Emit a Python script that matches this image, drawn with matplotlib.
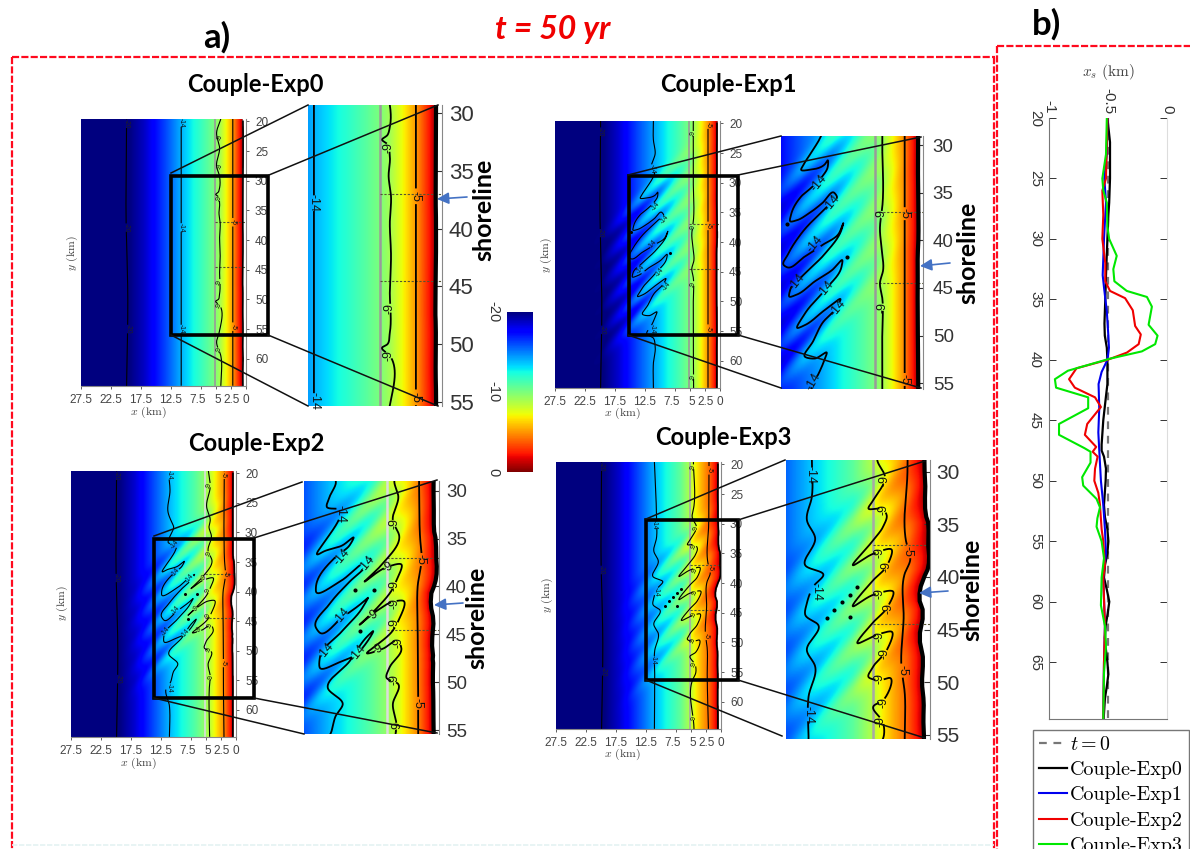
import numpy as np
import matplotlib
matplotlib.use("Agg")
import matplotlib.pyplot as plt
from matplotlib.cm import ScalarMappable
from matplotlib.colors import Normalize
from matplotlib.patches import Rectangle
from matplotlib.transforms import ScaledTranslation

plt.rcParams['mathtext.fontset'] = 'cm'
plt.rcParams['font.family'] = ['Liberation Sans', 'DejaVu Sans']
plt.rcParams['axes.unicode_minus'] = False
W, H = 1190, 849

# ---------- cross-shore depth profile (km, m) per experiment ----------
prof_x = [0.0, 0.5, 1.0, 2.0, 3.2, 4.35, 5.2, 7.0, 9.0, 10.8, 13.0, 15.0, 17.0, 19.5, 27.5]
prof_z0 = [0, -0.5, -2.2, -4.7, -7.0, -9.0, -10.0, -11.3, -12.7, -14.0, -15.8, -17.3, -18.8, -20, -20]
prof_z1 = [0, -0.5, -2.2, -4.7, -7.0, -9.0, -10.0, -11.3, -12.7, -14.0, -15.5, -17.0, -18.6, -20, -20]
prof_z2 = [0, -0.5, -2.2, -4.5, -6.4, -8.2, -9.4, -11.0, -12.4, -13.6, -15.4, -17.0, -18.6, -20, -20]
prof_z3 = [0, -0.5, -2.0, -3.9, -5.4, -7.0, -8.6, -10.8, -12.3, -13.6, -15.4, -17.0, -18.6, -20, -20]

# ---------- oblique bar pattern: along-shore position at x = 10 km ----------
deep1 = [31.2, 35.4, 39.5, 43.3, 47.2]
shal1 = [29.3, 33.5, 37.4, 41.3, 45.5, 49.3]
deep2 = [32.3, 36.3, 40.2, 44.0, 48.0]
shal2 = [34.5, 37.9, 41.9, 45.9, 49.6]
deep3 = [36.0, 40.0, 43.8, 47.8, 52.0]
shal3 = [38.0, 41.9, 45.8, 49.7, 53.9]
env_x = [0, 2, 4, 6, 8, 10, 13, 16, 18, 20, 22]
env1 = [0, 0.03, 0.15, 0.4, 0.7, 1.0, 1.0, 0.6, 0.3, 0.1, 0]
env2 = [0, 0.1, 0.45, 0.85, 1.0, 1.0, 0.7, 0.2, 0.03, 0, 0]
env3 = [0, 0.3, 0.7, 1.0, 0.9, 0.75, 0.4, 0.08, 0, 0, 0]
amp = [0.0, 1.7, 1.6, 1.3]

# ---------- panel b: shoreline position xs(y) ----------
y_t0 = [20, 69.7]
xs_t0 = [-0.5, -0.5]
y_b0 = [20, 22, 25, 27, 28, 30, 33, 35, 37, 38, 39, 40, 42, 43, 45, 47, 47.5, 48, 49, 50, 52, 53, 54, 55, 56, 57, 58, 59, 60, 61, 62, 63, 64, 65, 66, 67, 68, 69.7]
xs_b0 = [-.505, -.483, -.483, -.49, -.497, -.505, -.517, -.523, -.53, -.527, -.51, -.505, -.505, -.517, -.54, -.554, -.554, -.534, -.517, -.52, -.534, -.526, -.505, -.497, -.505, -.526, -.534, -.51, -.489, -.503, -.52, -.526, -.517, -.505, -.497, -.51, -.526, -.537]
y_b1 = [20, 23, 25, 27, 30, 33, 34, 36, 38, 39, 40, 41, 42, 44, 46, 47.5, 50, 52, 54, 56, 58, 62, 65, 69.7]
xs_b1 = [-.505, -.51, -.531, -.517, -.534, -.545, -.534, -.51, -.497, -.492, -.505, -.554, -.58, -.574, -.582, -.574, -.56, -.54, -.526, -.517, -.54, -.526, -.534, -.54]
y_b2 = [20, 25, 26, 28, 30, 32, 33.5, 34.3, 34.9, 35.9, 37.2, 37.9, 38.7, 39.4, 40, 40.7, 41.6, 42.3, 43.1, 43.9, 45.3, 46.2, 47.2, 47.6, 48, 49, 50, 51, 52, 54, 55, 57, 58, 62, 65, 69.7]
xs_b2 = [-.505, -.517, -.548, -.54, -.548, -.523, -.523, -.483, -.355, -.29, -.27, -.222, -.24, -.34, -.505, -.767, -.83, -.781, -.61, -.56, -.676, -.696, -.6, -.63, -.588, -.61, -.616, -.582, -.568, -.554, -.54, -.526, -.54, -.526, -.534, -.54]
y_b3 = [20, 23, 25, 26, 27, 29, 30, 31.4, 32.5, 33.5, 34.3, 34.8, 35.6, 37.1, 38, 38.7, 39.3, 39.9, 40.9, 41.6, 42.3, 43.1, 44, 45.3, 46.2, 47.3, 47.6, 48.5, 49.7, 50.4, 51.5, 52.2, 53.1, 53.8, 55, 56.4, 58, 60.3, 62, 63.7, 65.9, 69.7]
xs_b3 = [-.51, -.517, -.548, -.54, -.51, -.505, -.49, -.426, -.455, -.446, -.341, -.17, -.128, -.156, -.08, -.1, -.213, -.483, -.84, -.95, -.94, -.668, -.668, -.915, -.915, -.70, -.648, -.648, -.719, -.71, -.597, -.568, -.59, -.597, -.554, -.534, -.554, -.56, -.526, -.517, -.534, -.54]

# ---------- -14 m contour (x km, y km) ----------
c14x0 = [10.8, 10.8]
c14y0 = [19.6, 64.6]
c14x1 = [11.1, 11.1, 10.8, 11.4, 10.9, 11.1, 12.0, 13.0, 13.3, 12.4, 10.7, 10.4, 10.4, 11.0, 12.1, 13.3, 14.4, 14.5, 13.8, 12.5, 11.0, 9.7, 9.4, 10.3, 13.3, 14.7, 15.2, 14.9, 12.9, 11.0, 9.2, 8.7, 8.9, 10.7, 12.9, 14.5, 14.6, 13.8, 11.8, 9.9, 8.8, 8.9, 10.7, 12.9, 13.7, 12.9, 10.7, 9.0, 9.4, 11.0, 12.0, 12.9, 11.8, 10.5, 10.7, 11.4, 12.2, 11.1, 10.8, 11.1, 11.1]
c14y1 = [19.6, 22.8, 25, 27.6, 28.5, 29.0, 30.5, 32.0, 32.6, 32.6, 32.0, 31.6, 32.3, 33.3, 34.4, 35.4, 37.3, 38.0, 37.9, 37.2, 36.1, 35.0, 35.4, 36.3, 39.3, 41.4, 42.6, 42.8, 41.7, 40.5, 39.3, 38.2, 38.9, 41.4, 43.5, 45.2, 45.9, 45.7, 44.3, 43.1, 42.1, 42.8, 45.2, 47.7, 49.2, 48.9, 47.3, 46.2, 47.0, 48.7, 50.6, 52.2, 52.4, 51.8, 52.4, 54.0, 55.5, 56.2, 57.6, 60.4, 64.6]
c14x2 = [11.3, 11.0, 11.3, 10.7, 10.4, 11.0, 11.3, 9.8, 10.0, 12.05, 11.7, 9.7, 8.6, 9.0, 10.4, 12.4, 12.4, 10.0, 7.7, 6.9, 7.3, 9.0, 11.0, 12.4, 12.05, 9.7, 7.3, 7.2, 7.7, 9.7, 12.0, 12.0, 10.0, 8.35, 6.7, 7.3, 9.0, 11.2, 9.7, 10.4, 11.0, 11.6, 11.1, 11.1]
c14y2 = [19.6, 22.8, 26.7, 28.3, 29.0, 30.6, 31.7, 32.1, 32.8, 36.6, 36.4, 35.7, 34.9, 35.7, 36.9, 40.1, 40.5, 39.5, 37.6, 37.1, 37.8, 39.5, 41.8, 44.3, 44.8, 43.2, 41.3, 41.2, 42.2, 44.6, 47.4, 48.5, 47.9, 47.1, 44.7, 45.3, 47.8, 50.6, 52.3, 53.5, 55.5, 56.3, 59.3, 64.6]
c14x3 = [11.1, 10.75, 10.75, 11.2, 10.45, 11.35, 9.7, 10.6, 11.2, 11.35, 10.15, 11.2, 10.45, 11.05, 11.05, 11.1]
c14y3 = [19.6, 28.9, 32.4, 34.6, 36.3, 38.9, 39.8, 40.9, 42.5, 43.6, 44.6, 47.0, 48.5, 51.4, 55.3, 64.6]

# ---------- -9 m contour ----------
c9x0 = [4.2, 4.9, 4.4, 4.9, 4.4, 4.4, 4.6, 5.05, 4.6, 4.4, 4.5, 4.3, 4.4, 4.3, 4.4, 4.4, 4.6, 5.05, 4.4, 4.4, 4.9, 4.2, 4.2]
c9y0 = [19.6, 21.9, 24.5, 27.6, 29.3, 31.2, 31.9, 32.3, 32.7, 33.7, 35.5, 37.2, 39.5, 42.4, 45.3, 49.0, 50, 50.3, 51, 55.3, 57.2, 59.5, 64.6]
c9x1 = [4.45, 4.45, 4.4, 4.7, 4.5, 4.35, 4.7, 4.45, 4.45, 4.45, 4.4]
c9y1 = [19.6, 30, 36, 38.9, 41, 43.1, 44.5, 46, 50, 55, 64.6]
c9x2 = [4.6, 4.3, 4.9, 4.3, 4.5, 4.1, 4.65, 4.0, 5.65, 7.5, 5.3, 3.8, 4.3, 4.65, 6.2, 8.0, 6.2, 4.65, 3.6, 4.1, 4.65, 7.2, 5.65, 4.1, 3.8, 5.0, 5.3, 4.1, 4.65, 4.3, 4.4, 4.4]
c9y2 = [19.6, 22.2, 25.6, 28.0, 29, 30.6, 33.1, 34.8, 37.6, 39.5, 38.0, 37.7, 39.4, 40.2, 42.2, 44.0, 42.5, 41.6, 41.5, 43.6, 44.6, 47.0, 46.5, 45.7, 46.4, 48.5, 49.5, 50.2, 52.3, 54.4, 55.6, 64.6]
c9x3 = [4.6, 4.5, 4.8, 4.1, 5.15, 5.6, 4.25, 3.95, 4.25, 5.15, 7.0, 5.15, 3.5, 3.95, 5.15, 7.0, 5.15, 3.35, 3.95, 5.15, 6.6, 4.55, 3.5, 3.95, 5.15, 5.6, 4.55, 3.65, 4.25, 5.15, 4.25, 4.25, 4.6, 4.5]
c9y3 = [19.6, 27, 28.9, 30.5, 32.7, 33.5, 33.6, 34.1, 35.2, 36.5, 38.9, 37.8, 37.4, 39.0, 40.3, 42.8, 41.7, 41.4, 43.0, 44.3, 46.3, 45.4, 45.2, 47.0, 48.5, 49.5, 49.8, 49.6, 51.7, 52.3, 53.9, 55.3, 56, 64.6]

# ---------- -5 and -20 m contours ----------
c5y0 = [19.6, 64.6]
c5x0 = [2.2, 2.2]
c5y1 = [19.6, 64.6]
c5x1 = [2.0, 2.0]
c5y2 = [19.6, 30, 35, 37, 40, 44, 50, 55, 64.6]
c5x2 = [1.95, 2.0, 1.9, 1.75, 2.15, 2.15, 2.1, 2.1, 2.0]
c5y3 = [19.6, 30, 36.5, 38.4, 39.7, 44, 48.5, 51, 55.3, 64.6]
c5x3 = [2.0, 2.05, 2.2, 1.8, 2.3, 2.4, 2.6, 2.3, 2.3, 2.1]
c20x = [19.9, 20.0, 19.7, 19.9]

# ---------- contour labels ----------
lab20_y = [[20.4, 37.9, 55.0], [21.4, 38.5, 54.8], [20.4, 37.7, 54.8], [20.4, 37.8, 54.9]]
m14 = [[(10.8, 20.2, 270), (10.8, 37.9, 270), (10.8, 55.0, 270)],
       [(11.3, 27.6, 270), (10.8, 34.0, 50), (9.3, 36.2, 50), (11.2, 40.4, 50), (13.2, 44.6, 50), (10.1, 45.1, 50), (8.9, 47.4, 50), (11.3, 54.7, 270)],
       [(11.1, 20.3, 270), (10.3, 32.0, 50), (10.0, 36.7, 50), (7.7, 37.7, 50), (10.0, 43.1, 50), (11.7, 46.8, 50), (8.4, 47.0, 50), (11.1, 56.2, 270)],
       [(11.1, 30.2, 270), (10.8, 41.4, 270), (11.3, 53.0, 270)]]
i14 = [[(10.8, 37.8, 270), (10.75, 54.9, 270)],
       [(11.4, 34.0, 50), (9.9, 36.1, 50), (11.8, 40.4, 50), (13.8, 44.4, 50), (10.6, 45.1, 50), (9.3, 47.1, 50), (12.0, 54.8, 60)],
       [(9.9, 32.4, 270), (9.8, 36.9, 50), (7.3, 37.7, 50), (9.8, 43.1, 50), (11.4, 46.8, 50), (8.2, 47.0, 50)],
       [(10.85, 30.3, 270), (10.3, 41.4, 270), (11.05, 53.1, 270)]]
m9 = [[(4.3, 22.7, 90), (4.3, 27.6, 90), (4.4, 33.0, 90), (4.4, 47.0, 90), (4.4, 51.0, 90), (4.4, 58.4, 90)],
      [(4.45, 21.7, 90), (4.45, 37.4, 90), (4.4, 47.0, 90), (4.5, 62.7, 90)],
      [(4.5, 22.0, 90), (4.4, 33.5, 90), (5.4, 37.8, 30), (4.6, 39.8, 90), (6.7, 43.0, 30), (4.6, 43.9, 90), (4.3, 45.7, 90), (6.2, 46.6, 30), (4.4, 49.8, 90), (4.2, 54.5, 90)],
      [(4.6, 20.4, 90), (4.2, 30.8, 90), (4.5, 33.8, 90), (4.3, 37.8, 90), (4.3, 41.6, 90), (4.5, 45.3, 90), (4.6, 49.6, 90), (4.4, 53.7, 90), (4.5, 62.7, 90)]]
i9 = [[(4.55, 33.0, 90), (4.4, 46.9, 90), (4.55, 51.0, 90)],
      [(4.5, 37.3, 90), (4.4, 47.0, 90)],
      [(4.5, 33.4, 90), (5.2, 38.0, 30), (4.5, 39.9, 90), (4.5, 41.8, 90), (6.7, 43.0, 30), (4.5, 43.9, 90), (4.1, 45.8, 90), (6.2, 46.6, 30), (4.5, 49.7, 90), (4.2, 54.6, 90)],
      [(4.1, 30.8, 90), (4.25, 33.6, 90), (4.55, 37.7, 90), (3.95, 39.0, 90), (4.55, 41.6, 90), (3.8, 43.0, 90), (4.6, 45.7, 90), (4.1, 47.3, 90), (4.6, 49.7, 90), (4.25, 51.9, 90), (4.5, 53.7, 90)]]
m5 = [[(2.2, 37.0), (2.2, 54.6)], [(2.0, 20.2), (2.0, 37.3), (2.0, 54.6)], [(2.2, 20.3), (1.75, 37.1), (2.2, 52.1)], [(2.0, 21.0), (1.8, 37.5), (2.4, 48.9)]]
i5 = [[(2.2, 37.2), (2.2, 54.6)], [(2.0, 37.2), (2.05, 54.6)], [(1.85, 37.2), (2.15, 52.2)], [(2.05, 37.6), (2.5, 48.9)]]
tip_x = [[], [14.8, 8.3], [8.5, 6.5, 8.0], [9.4, 8.7, 8.0, 7.3, 6.6, 7.3]]
tip_y = [[], [38.3, 41.8], [40.4, 40.4, 44.6], [43.9, 43.1, 42.4, 41.7, 41.0, 43.8]]

# ---------- tick labels ----------
x_ticks = [27.5, 22.5, 17.5, 12.5, 7.5, 5, 2.5, 0]
x_ticklabels = ['27.5', '22.5', '17.5', '12.5', '7.5', '5', '2.5', '0']
y_ticks = [20, 25, 30, 35, 40, 45, 50, 55, 60]
inset_ticks = [30, 35, 40, 45, 50, 55]
names = ['Couple-Exp0', 'Couple-Exp1', 'Couple-Exp2', 'Couple-Exp3']

# ---------- layout (pixel boxes in the figure) ----------
main_box = [(81, 119, 246, 386), (555, 121, 720, 388), (71, 471, 236, 737), (556, 462, 721, 729)]
inset_box = [(308, 105, 442, 406), (781, 136, 923, 389), (304, 481, 439, 734), (786, 460, 930, 739)]
inset_xlim = [11.3, 15.5, 13.6, 13.1]
inset_ylim = [(55.35, 29.3), (55.6, 29.05), (55.4, 29.0), (55.4, 28.9)]
inset_fs = [16, 13.5, 13.5, 15]
inset_pad = [5, 7, 5, 4.5]
rect_box = [(171, 176, 268, 335), (629, 176, 738, 335), (154, 539, 254, 698), (646, 520, 738, 680)]
conn = [[((171, 173), (308, 105)), ((269, 175), (438, 105)), ((171, 335), (308, 406)), ((268, 335), (438, 406))],
        [((628, 175), (781, 136)), ((738, 175), (921, 137)), ((628, 335), (781, 388)), ((738, 335), (921, 388))],
        [((154, 536), (302, 482)), ((254, 538), (437, 480)), ((154, 698), (304, 734)), ((254, 698), (437, 733))],
        [((646, 519), (785, 460)), ((738, 520), (925, 461)), ((646, 680), (782, 736)), ((738, 680), (925, 738))]]
shore_txt = [(484, 210), (968, 253), (477, 618), (972, 590)]
arrows = [((467, 197), (437, 199)), ((950, 263), (920, 266)), ((463, 603), (434, 605)), ((948, 591), (919, 593))]
title_xy = [(255, 84), (728, 84), (256, 443), (723, 437)]
xlabel_xy = [(148, 412), (622, 413), (138, 763), (622, 754)]
ylabel_xy = [(72, 253), (546, 255), (62, 603), (547, 595)]
gray_cols = ['#9a9a9a', '#9a9a9a', '#dcdcdc', '#a8a8a8']

ys_list = [(y_b0, xs_b0), (y_b1, xs_b1), (y_b2, xs_b2), (y_b3, xs_b3)]
profs = [prof_z0, prof_z1, prof_z2, prof_z3]
stripes = [([], []), (deep1, shal1), (deep2, shal2), (deep3, shal3)]
envs = [[0] * len(env_x), env1, env2, env3]
c14 = [(c14x0, c14y0), (c14x1, c14y1), (c14x2, c14y2), (c14x3, c14y3)]
c9 = [(c9x0, c9y0), (c9x1, c9y1), (c9x2, c9y2), (c9x3, c9y3)]
c5 = [(c5x0, c5y0), (c5x1, c5y1), (c5x2, c5y2), (c5x3, c5y3)]

fig = plt.figure(figsize=(W / 100, H / 100), dpi=100, facecolor='white')


def box_axes(box, **kw):
    l, t, r, b = box
    return fig.add_axes([l / W, 1 - b / H, (r - l) / W, (b - t) / H], **kw)


grid_x = np.linspace(27.5, 0, 500)
grid_y = np.linspace(19.6, 64.6, 620)
GX, GY = np.meshgrid(grid_x, grid_y)


def build_field(k):
    ysh, xsh = ys_list[k]
    sh = -np.interp(GY, ysh, xsh)
    w = np.clip(1 - GX / 4.0, 0, 1)
    z = np.interp(GX - (sh - 0.5) * w, prof_x, profs[k])
    e = np.interp(GX, env_x, envs[k])
    deep, shal = stripes[k]
    for y0 in deep:
        z = z - amp[k] * e * np.exp(-((GY - y0 - (GX - 10)) / 1.2) ** 2)
    for y0 in shal:
        z = z + amp[k] * e * np.exp(-((GY - y0 - (GX - 10)) / 1.2) ** 2)
    z = np.clip(z, -20, 0)
    return np.ma.masked_where(GX < sh, z)


def smooth(x, y):
    # rounded curve through the points
    x = np.asarray(x, float)
    y = np.asarray(y, float)
    s = np.r_[0, np.cumsum(np.hypot(np.diff(x), np.diff(y)))]
    if len(x) < 3:
        t = np.arange(0, s[-1], 0.04)
        return np.interp(t, s, x), np.interp(t, s, y)
    out_x, out_y = [], []
    mx = np.gradient(x, s)
    my = np.gradient(y, s)
    for i in range(len(x) - 1):
        h = s[i + 1] - s[i]
        u = np.arange(0, 1, 0.04 / h) if h > 0.04 else np.array([0.0])
        h00, h10 = 2 * u**3 - 3 * u**2 + 1, u**3 - 2 * u**2 + u
        h01, h11 = -2 * u**3 + 3 * u**2, u**3 - u**2
        out_x.append(h00 * x[i] + h10 * h * mx[i] + h01 * x[i + 1] + h11 * h * mx[i + 1])
        out_y.append(h00 * y[i] + h10 * h * my[i] + h01 * y[i + 1] + h11 * h * my[i + 1])
    return np.concatenate(out_x), np.concatenate(out_y)


def broken(x, y, labs, r):
    fx, fy = smooth(x, y)
    for lab in labs:
        d = np.hypot(fx - lab[0], fy - lab[1])
        fy = np.where(d < r, np.nan, fy)
    return fx, fy


def draw_contours(ax, k, labs14, labs9, labs5, fs, lw, gap, with20):
    for (cx, cy), labs, g in ((c14[k], labs14, gap), (c9[k], labs9, gap * 0.55), (c5[k], labs5, gap)):
        fx, fy = broken(cx, cy, labs, g)
        ax.plot(fx, fy, color='k', lw=lw, solid_capstyle='butt')
    if with20:
        labs = [(c20x[i], lab20_y[k][i]) for i in range(3)]
        fx, fy = broken(c20x, [19.6, 35, 50, 64.6], labs, gap)
        ax.plot(fx, fy, color='k', lw=lw, solid_capstyle='butt')
        for lx, ly in labs:
            ax.text(lx, ly, '-20', fontsize=fs, rotation=270, ha='center', va='center', color='#222')
    for a, b, c in labs14:
        ax.text(a, b, '-14', fontsize=fs, rotation=c, ha='center', va='center', color='#111')
    for a, b, c in labs9:
        ax.text(a, b, '-9', fontsize=fs, rotation=c, ha='center', va='center', color='#111')
    for a, b in labs5:
        ax.text(a, b, '-5', fontsize=fs, rotation=270, ha='center', va='center', color='#111')
    ax.plot(tip_x[k], tip_y[k], ls='none', marker='o', ms=lw * 1.5, color='k')


def decorate(ax, k, gray_lw):
    ax.axvline(5.2, color=gray_cols[k], lw=gray_lw)
    for yy in (37.0, 44.5):
        ax.plot([5.2, 0], [yy, yy], color='#555533', lw=0.8, ls=(0, (2, 1.5)))
    ysh, xsh = ys_list[k]
    return np.array(ysh), -np.array(xsh)


for k in range(4):
    field = build_field(k)
    for which, box in (('main', main_box[k]), ('inset', inset_box[k])):
        ax = box_axes(box)
        ax.imshow(field, cmap='jet', vmin=-20, vmax=0, extent=[27.5, 0, 64.6, 19.6],
                  origin='upper', aspect='auto', interpolation='bilinear')
        ax.patch.set_facecolor('white')
        if which == 'main':
            sy, sx = decorate(ax, k, 1.2)
            draw_contours(ax, k, m14[k], m9[k], m5[k], 4.8, 0.8, 0.7, True)
            ax.plot(sx, sy, color='k', lw=1.2)
            ax.set_xlim(27.5, 0)
            ax.set_ylim(64.6, 19.6)
            ax.set_xticks(x_ticks)
            ax.set_xticklabels(x_ticklabels)
            ax.set_yticks(y_ticks)
            ax.yaxis.tick_right()
            ax.tick_params(axis='both', labelsize=8.5, colors='#444444', length=2.5, width=0.6, pad=3)
            ax.tick_params(axis='y', pad=4)
            shift = {4: -3, 5: 1.3, 6: 1}
            for i, lab in enumerate(ax.get_xticklabels()):
                if i in shift:
                    lab.set_transform(lab.get_transform() + ScaledTranslation(shift[i] / 100, 0, fig.dpi_scale_trans))
        else:
            sy, sx = decorate(ax, k, 1.8)
            draw_contours(ax, k, i14[k], i9[k], i5[k], 9, 1.3, 0.65, False)
            ax.plot(sx, sy, color='k', lw=3)
            ax.set_xlim(inset_xlim[k], 0)
            ax.set_ylim(*inset_ylim[k])
            ax.set_xticks([])
            ax.set_yticks(inset_ticks)
            ax.yaxis.tick_right()
            ax.tick_params(axis='y', direction='in', labelsize=inset_fs[k], colors='#333333', length=4, width=0.8, pad=inset_pad[k])
        for side in ('top', 'left'):
            ax.spines[side].set_visible(False)
        ax.spines['bottom'].set_visible(which == 'main')
        for side in ('bottom', 'right'):
            ax.spines[side].set_color('#888888')
            ax.spines[side].set_linewidth(0.8)

# ---------- colour bar ----------
cax = box_axes((507, 312, 533, 472))
cb = fig.colorbar(ScalarMappable(Normalize(-20, 0), cmap='jet'), cax=cax, ticks=[-20, -10, 0])
cb.outline.set_visible(False)
cax.invert_yaxis()
cax.yaxis.tick_left()
cax.tick_params(length=0, pad=10, labelsize=10.5, colors='#333333')
for lab in cax.get_yticklabels():
    lab.set_rotation(270)
    lab.set_va('center')
    lab.set_ha('center')

# ---------- panel b ----------
axb = box_axes((1049, 118, 1167, 719))
axb.plot(xs_t0, y_t0, color='#777777', lw=1.6, ls=(0, (3.5, 3)), label='$t=0$')
axb.plot(xs_b0, y_b0, color='k', lw=1.6, label=names[0])
axb.plot(xs_b1, y_b1, color='#0000ee', lw=1.5, label=names[1])
axb.plot(xs_b2, y_b2, color='#f00000', lw=1.5, label=names[2])
axb.plot(xs_b3, y_b3, color='#00e800', lw=1.5, label=names[3])
axb.set_xlim(-1, 0)
axb.set_ylim(69.7, 20)
axb.set_xticks([-1, -0.5, 0])
axb.set_xticklabels(['-1', '-0.5', '0'], rotation=270)
axb.set_yticks([20, 25, 30, 35, 40, 45, 50, 55, 60, 65])
axb.xaxis.tick_top()
axb.yaxis.set_ticks_position('both')
axb.tick_params(axis='both', direction='in', labelsize=11, colors='#333333', length=5, width=0.7)
axb.tick_params(axis='x', pad=3)
axb.tick_params(axis='y', pad=5)
for lab in axb.get_yticklabels():
    lab.set_rotation(270)
    lab.set_va('center')
axb.spines['top'].set_visible(False)
axb.spines['left'].set_color('#777777')
axb.spines['bottom'].set_color('#777777')
axb.spines['right'].set_color('#dddddd')

leg = fig.legend(handles=axb.get_lines(), loc='upper left', bbox_to_anchor=(1033 / W, 1 - 730 / H),
                 bbox_transform=fig.transFigure, borderaxespad=0, frameon=True, fancybox=False,
                 edgecolor='#777777', framealpha=1, handlelength=1.4, handletextpad=0.15, labelspacing=0.36,
                 borderpad=0.3, prop={'family': ['cmr10', 'Liberation Serif'], 'size': 14.4})
leg.set_zorder(30)

# ---------- overlay drawn in figure pixels ----------
ov = fig.add_axes([0, 0, 1, 1], zorder=20)
ov.set_xlim(0, W)
ov.set_ylim(H, 0)
ov.axis('off')
ov.patch.set_alpha(0)
red = '#ff0a1e'
dash = (0, (3.2, 1.0))
ov.plot([12, 12], [57, 849], color=red, lw=1.6, ls=dash)
ov.plot([12, 995], [57, 57], color=red, lw=1.6, ls=dash)
ov.plot([994, 994], [57, 849], color=red, lw=1.6, ls=dash)
ov.plot([997, 997], [46, 849], color=red, lw=1.6, ls=dash)
ov.plot([997, 1190], [45.5, 45.5], color=red, lw=1.6, ls=dash)
ov.plot([12, 994], [845, 845], color='#e4f2f2', lw=1.2, ls=dash)

title_font = ['Lato', 'Open Sans', 'DejaVu Sans']
ov.text(217, 37, 'a)', fontsize=25, fontweight='bold', family=title_font, ha='center', va='center')
ov.text(1047, 24, 'b)', fontsize=25, fontweight='bold', family=title_font, ha='center', va='center')
ov.text(553, 29, 't = 50 yr', fontsize=23, fontweight='bold', fontstyle='italic',
        family=title_font, color='#f00000', ha='center', va='center')
ov.text(1108, 72, '$x_s$ (km)', fontsize=11, family=['cmr10', 'Liberation Serif'], color='#444444', ha='center', va='center')

for k in range(4):
    l, t, r, b = rect_box[k]
    ov.add_patch(Rectangle((l, t), r - l, b - t, fill=False, ec='k', lw=2.6))
    for p, q in conn[k]:
        ov.plot([p[0], q[0]], [p[1], q[1]], color='#111111', lw=1.1)
    ov.text(*title_xy[k], names[k], fontsize=17, fontweight='bold', family=title_font, ha='center', va='center')
    ov.text(*shore_txt[k], 'shoreline', fontsize=18, fontweight='bold', family=title_font, rotation=90, ha='center', va='center')
    ov.annotate('', xy=arrows[k][1], xytext=arrows[k][0],
                arrowprops=dict(arrowstyle='-|>,head_width=0.35,head_length=0.7', color='#4472c4', lw=1.2, shrinkA=0, shrinkB=0))
    ov.text(*xlabel_xy[k], '$x$ (km)', fontsize=8.5, family=['cmr10', 'Liberation Serif'], color='#444444', ha='center', va='center')
    ov.text(*ylabel_xy[k], '$y$ (km)', fontsize=8.5, family=['cmr10', 'Liberation Serif'], color='#444444', rotation=90, ha='center', va='center')

fig.savefig('out.png', dpi=100)
